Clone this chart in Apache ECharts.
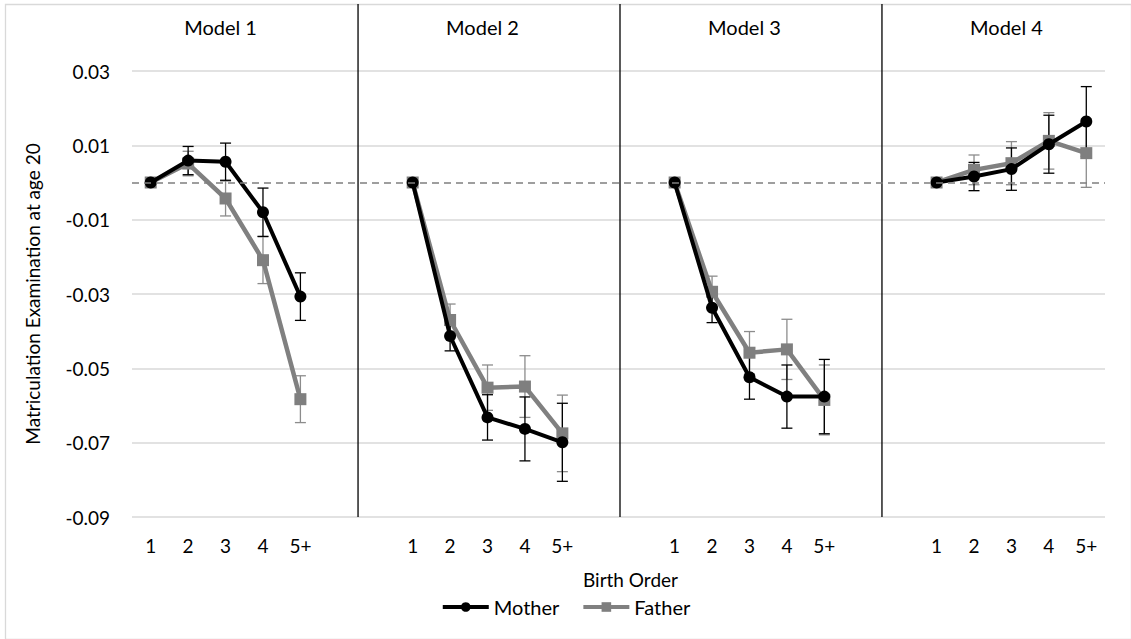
<!DOCTYPE html>
<html>
<head>
<meta charset="utf-8">
<script src="https://cdn.jsdelivr.net/npm/echarts@6/dist/echarts.min.js"></script>
<style>html,body{margin:0;padding:0;background:#fff}#chart{width:1131px;height:639px}</style>
</head>
<body>
<div id="chart"></div>
<script>
// ---- data ----
const birthOrders = ['1', '2', '3', '4', '5+'];
const panelTitles = ['Model 1', 'Model 2', 'Model 3', 'Model 4'];
const yTicks = [-0.09, -0.07, -0.05, -0.03, -0.01, 0.01, 0.03];

const mother1 = [0, 0.0059, 0.0056, -0.0080, -0.0307];
const mother2 = [0, -0.0413, -0.0632, -0.0663, -0.0699];
const mother3 = [0, -0.0337, -0.0524, -0.0576, -0.0576];
const mother4 = [0, 0.0016, 0.0036, 0.0103, 0.0164];
const motherErr1 = [0, 0.0038, 0.0050, 0.0065, 0.0064];
const motherErr2 = [0, 0.0040, 0.0061, 0.0086, 0.0105];
const motherErr3 = [0, 0.0040, 0.0059, 0.0085, 0.0100];
const motherErr4 = [0, 0.0038, 0.0057, 0.0078, 0.0094];

const father1 = [0, 0.0051, -0.0043, -0.0209, -0.0583];
const father2 = [0, -0.0370, -0.0552, -0.0549, -0.0675];
const father3 = [0, -0.0294, -0.0458, -0.0449, -0.0585];
const father4 = [0, 0.0034, 0.0052, 0.0112, 0.0079];
const fatherErr1 = [0, 0.0033, 0.0047, 0.0063, 0.0063];
const fatherErr2 = [0, 0.0043, 0.0061, 0.0083, 0.0103];
const fatherErr3 = [0, 0.0042, 0.0057, 0.0081, 0.0094];
const fatherErr4 = [0, 0.0040, 0.0058, 0.0076, 0.0092];

// ---- build combined category axis (blank categories between panels) ----
const GAP = 2;
const motherPanels = [mother1, mother2, mother3, mother4];
const fatherPanels = [father1, father2, father3, father4];
const motherErrPanels = [motherErr1, motherErr2, motherErr3, motherErr4];
const fatherErrPanels = [fatherErr1, fatherErr2, fatherErr3, fatherErr4];

const categories = [];
const panelStarts = [];
const motherData = [], fatherData = [], motherBars = [], fatherBars = [];
for (let p = 0; p < panelTitles.length; p++) {
  panelStarts.push(categories.length);
  for (let i = 0; i < birthOrders.length; i++) {
    const idx = categories.length;
    categories.push(birthOrders[i]);
    motherData.push(motherPanels[p][i]);
    fatherData.push(fatherPanels[p][i]);
    if (motherErrPanels[p][i] > 0) motherBars.push([idx, motherPanels[p][i] - motherErrPanels[p][i], motherPanels[p][i] + motherErrPanels[p][i]]);
    if (fatherErrPanels[p][i] > 0) fatherBars.push([idx, fatherPanels[p][i] - fatherErrPanels[p][i], fatherPanels[p][i] + fatherErrPanels[p][i]]);
  }
  if (p < panelTitles.length - 1) {
    for (let g = 0; g < GAP; g++) { categories.push(''); motherData.push(null); fatherData.push(null); }
  }
}

const FONT = 'Lato, "Open Sans", sans-serif';
const TXT = '#000000';

function errorBar(color) {
  return function (params, api) {
    const x = api.value(0);
    const lo = api.coord([x, api.value(1)]);
    const hi = api.coord([x, api.value(2)]);
    const hw = 5.5;
    const st = { stroke: color, lineWidth: 1.3, fill: null };
    return {
      type: 'group',
      children: [
        { type: 'line', shape: { x1: lo[0], y1: lo[1], x2: hi[0], y2: hi[1] }, style: st },
        { type: 'line', shape: { x1: hi[0] - hw, y1: hi[1], x2: hi[0] + hw, y2: hi[1] }, style: st },
        { type: 'line', shape: { x1: lo[0] - hw, y1: lo[1], x2: lo[0] + hw, y2: lo[1] }, style: st }
      ]
    };
  };
}

function panelDecor(params, api) {
  const start = api.value(0);
  const p = api.value(2);
  const cs = params.coordSys;
  const band = api.size([1, 0])[0];
  const mid = api.coord([start + 2, 0]);
  const children = [{
    type: 'text', x: mid[0] - 5, y: cs.y - 44,
    style: { text: panelTitles[p], fill: TXT, fontSize: 20, fontFamily: FONT, align: 'center', verticalAlign: 'middle' }
  }];
  if (start > 0) {
    const xd = api.coord([start - 1, 0])[0] - band / 2 + 1.5;
    children.push({ type: 'line', shape: { x1: xd, y1: cs.y - 67, x2: xd, y2: cs.y + cs.height }, style: { stroke: '#000', lineWidth: 1.3 } });
  }
  return { type: 'group', children };
}

const chart = echarts.init(document.getElementById('chart'), null, { renderer: 'svg' });
chart.setOption({
  backgroundColor: '#fff',
  animation: false,
  graphic: [{
    type: 'rect', left: 3, top: 2, silent: true,
    shape: { width: 1126, height: 635 },
    style: { fill: 'none', stroke: '#d9d9d9', lineWidth: 1.3 }
  }],
  grid: { left: 132, right: 26, top: 71, bottom: 122 },
  xAxis: {
    type: 'category', data: categories,
    axisLine: { show: false }, axisTick: { show: false }, splitLine: { show: false },
    axisLabel: { interval: 0, margin: 19, color: TXT, fontSize: 19, fontFamily: FONT },
    name: 'Birth Order', nameLocation: 'middle', nameGap: 53,
    nameTextStyle: { color: TXT, fontSize: 19, fontFamily: FONT, padding: [0, 0, 0, 24] }
  },
  yAxis: {
    type: 'value', min: yTicks[0], max: yTicks[yTicks.length - 1], interval: 0.02,
    axisLine: { show: false }, axisTick: { show: false },
    splitLine: { lineStyle: { color: '#d9d9d9', width: 1.5 } },
    axisLabel: { margin: 22, color: TXT, fontSize: 19, fontFamily: FONT, formatter: v => v.toFixed(2) },
    name: 'Matriculation Examination at age 20', nameLocation: 'middle', nameGap: 90,
    nameTextStyle: { color: TXT, fontSize: 19, fontFamily: FONT }
  },
  legend: {
    data: ['Mother', 'Father'], top: 592, left: 'center',
    itemWidth: 46, itemHeight: 12, itemGap: 22,
    lineStyle: { width: 4 },
    textStyle: { color: TXT, fontSize: 20, fontFamily: FONT }
  },
  series: [
    {
      type: 'custom', name: 'decor', renderItem: panelDecor, clip: false, silent: true, z: 1,
      encode: { x: 0, y: 1 },
      data: panelStarts.map((s, p) => [s, 0, p])
    },
    {
      type: 'custom', name: 'fatherErr', renderItem: errorBar('#8c8c8c'), clip: false, silent: true, z: 2,
      encode: { x: 0, y: [1, 2] }, data: fatherBars
    },
    {
      type: 'custom', name: 'motherErr', renderItem: errorBar('#000000'), clip: false, silent: true, z: 2,
      encode: { x: 0, y: [1, 2] }, data: motherBars
    },
    {
      type: 'line', name: 'Mother', data: motherData, z: 4,
      symbol: 'circle', symbolSize: 12, showAllSymbol: true,
      lineStyle: { color: '#000', width: 4 }, itemStyle: { color: '#000' },
      markLine: {
        silent: true, symbol: 'none', label: { show: false },
        lineStyle: { color: '#7f7f7f', width: 1.5, type: [7, 5] },
        data: [{ yAxis: 0 }]
      }
    },
    {
      type: 'line', name: 'Father', data: fatherData, z: 3,
      symbol: 'rect', symbolSize: 12, showAllSymbol: true,
      lineStyle: { color: '#808080', width: 4.5 }, itemStyle: { color: '#7f7f7f' }
    }
  ]
});
</script>
</body>
</html>
